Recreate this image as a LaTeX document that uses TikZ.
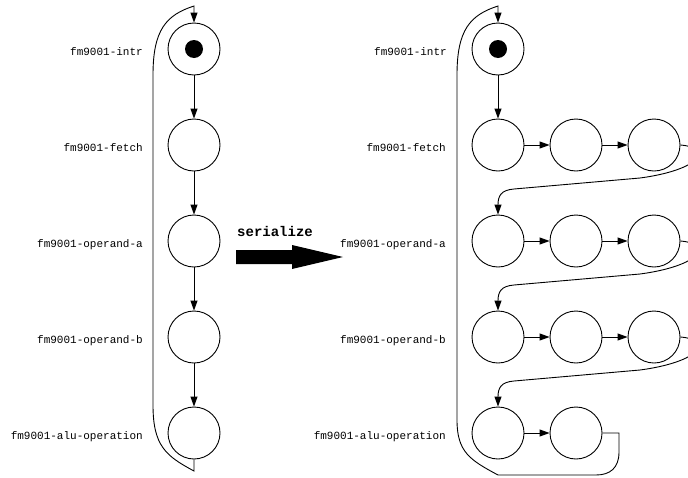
\documentclass[tikz,border=0pt]{standalone}
\usepackage{fontspec}
\setmonofont{Liberation Mono}
\usetikzlibrary{arrows.meta}

\tikzset{
  state/.style={circle, draw, line width=0.9pt, minimum size=52pt, inner sep=0pt},
  startdot/.style={circle, fill, minimum size=18pt, inner sep=0pt},
  lbl/.style={anchor=base east, inner sep=0pt, font=\ttfamily\fontsize{11}{13}\selectfont},
  edge/.style={line width=0.9pt, -{Triangle[length=10pt,width=7pt]}},
}

\begin{document}
\begin{tikzpicture}[x=1pt, y=-1pt]
      \clip (0,0) rectangle (688,477);
      % before: one state per stage
      \node[state] (li) at (194,49) {};
      \node[startdot] (lidot) at (li) {};
      \node[state] (lf) at (194,145) {};
      \node[state] (la) at (194,241) {};
      \node[state] (lb) at (194,337) {};
      \node[state] (lu) at (194,433) {};
      \node[lbl] (lli) at (143,55) {fm9001-intr};
      \node[lbl] (llf) at (143,151) {fm9001-fetch};
      \node[lbl] (lla) at (143,247) {fm9001-operand-a};
      \node[lbl] (llb) at (143,343) {fm9001-operand-b};
      \node[lbl] (llu) at (143,439) {fm9001-alu-operation};
      \begin{scope}[edge]
        \draw (li) to (lf);
        \draw (lf) to (la);
        \draw (la) to (lb);
        \draw (lb) to (lu);
        \draw (lu.south) -- (194,471) .. controls (166,456) and (153,446) .. (153,405)
          -- (153,75) .. controls (153,30) and (166,15) .. (194,6) -- (li.north);
      \end{scope}

      % the arrow in between
      \coordinate (sera) at (236,257);
      \coordinate (serb) at (343,257);
      \fill (sera) ++(0,-7) -- ++(56,0) -- ++(0,-5) -- (serb)
        -- (292,269) -- ++(0,-5) -- ++(-56,0) -- cycle;
      \node[anchor=base west, inner sep=0pt, font=\ttfamily\bfseries\fontsize{14}{16}\selectfont]
        (ser) at (237,236) {serialize};

      % after: the stages split into single steps
      \node[state] (ri) at (498,49) {};
      \node[startdot] (ridot) at (ri) {};
      \node[state] (rf1) at (498,145) {};
      \node[state] (rf2) at (576,145) {};
      \node[state] (rf3) at (654,145) {};
      \node[state] (ra1) at (498,241) {};
      \node[state] (ra2) at (576,241) {};
      \node[state] (ra3) at (654,241) {};
      \node[state] (rb1) at (498,337) {};
      \node[state] (rb2) at (576,337) {};
      \node[state] (rb3) at (654,337) {};
      \node[state] (ru1) at (498,433) {};
      \node[state] (ru2) at (576,433) {};
      \node[lbl] (rli) at (447,55) {fm9001-intr};
      \node[lbl] (rlf) at (446,151) {fm9001-fetch};
      \node[lbl] (rla) at (446,247) {fm9001-operand-a};
      \node[lbl] (rlb) at (446,343) {fm9001-operand-b};
      \node[lbl] (rlu) at (446,439) {fm9001-alu-operation};
      \begin{scope}[edge]
        \draw (ri) to (rf1);
        \draw (rf1) to (rf2);
        \draw (rf2) to (rf3);
        \draw (rf3.east) .. controls (715,148) and (700,170) .. (640,178)
          -- (514,189) .. controls (501,190) and (498,196) .. (ra1.north);
        \draw (ra1) to (ra2);
        \draw (ra2) to (ra3);
        \draw (ra3.east) .. controls (715,244) and (700,266) .. (640,274)
          -- (514,285) .. controls (501,286) and (498,292) .. (rb1.north);
        \draw (rb1) to (rb2);
        \draw (rb2) to (rb3);
        \draw (rb3.east) .. controls (715,340) and (700,362) .. (640,370)
          -- (514,381) .. controls (501,382) and (498,388) .. (ru1.north);
        \draw (ru1) to (ru2);
        \draw (ru2.east) -- (619,433) -- (619,452) .. controls (619,468) and (610,475) .. (596,475)
          -- (498,475) .. controls (470,460) and (457,452) .. (457,420)
          -- (457,75) .. controls (457,30) and (470,15) .. (498,6) -- (ri.north);
      \end{scope}
    \end{tikzpicture}
\end{document}
